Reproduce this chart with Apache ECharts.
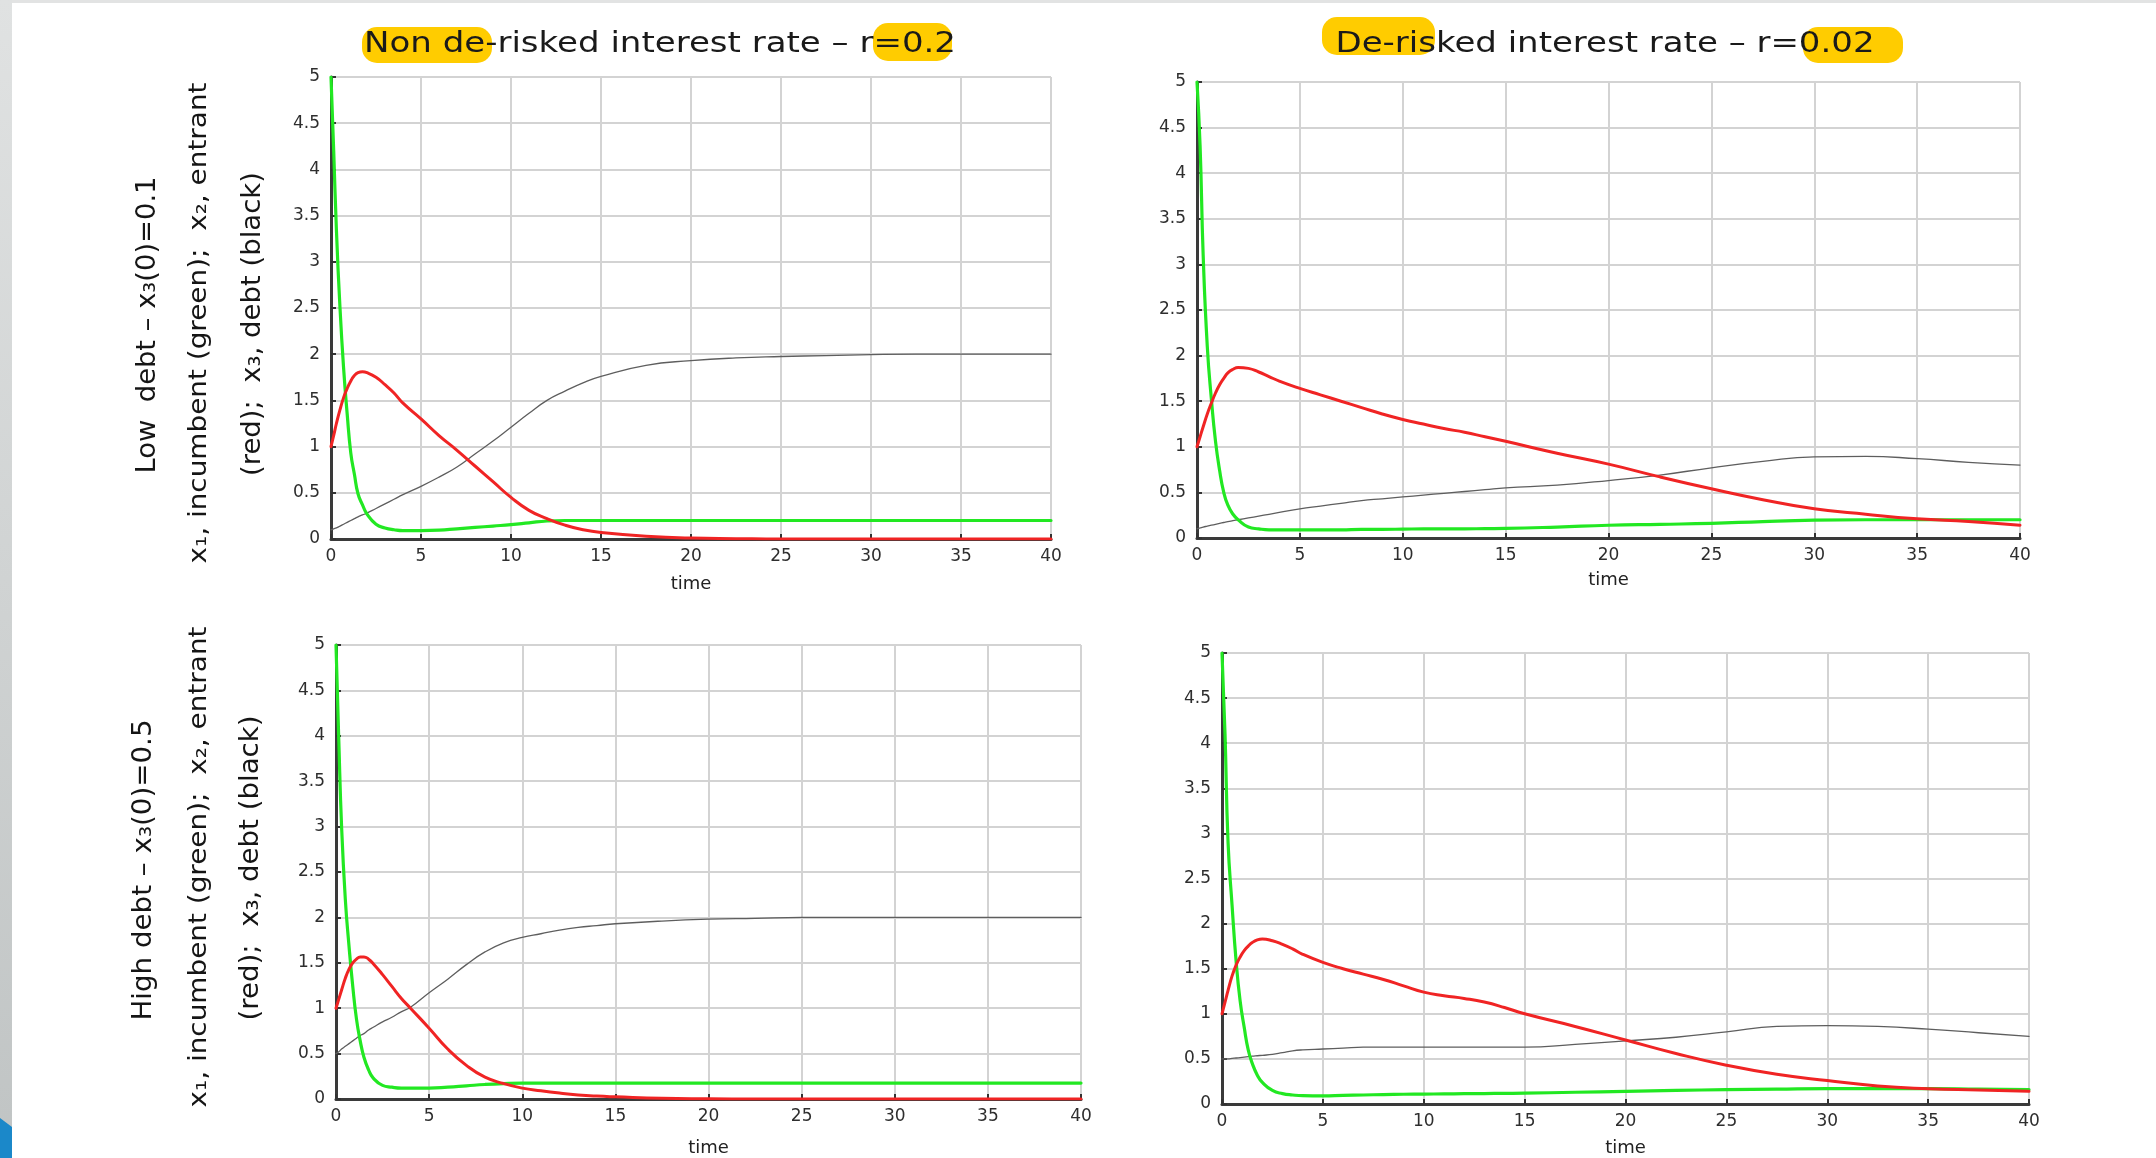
<!DOCTYPE html>
<html><head><meta charset="utf-8">
<script src="https://cdn.jsdelivr.net/npm/echarts@6/dist/echarts.min.js"></script>
<style>html,body{margin:0;padding:0;background:#fff;overflow:hidden}#c{width:2156px;height:1158px}</style>
</head><body><div id="c"></div>
<script>
// ---- data ----
const time = [0, 0.15, 0.3, 0.5, 0.7, 0.9, 1.1, 1.3, 1.5, 1.75, 2, 2.5, 3, 3.5, 4, 5, 6, 7, 8, 9, 10, 11, 12, 13, 14, 15, 17.5, 20, 22.5, 25, 27.5, 30, 32.5, 35, 37.5, 40];

// Top-left: low debt, non de-risked r=0.2
const tlGreen = [5, 4.2, 3.35, 2.5, 1.85, 1.35, 0.93, 0.7, 0.49, 0.37, 0.27, 0.16, 0.12, 0.10, 0.09, 0.09, 0.095, 0.11, 0.125, 0.14, 0.155, 0.175, 0.195, 0.2, 0.2, 0.2, 0.2, 0.2, 0.2, 0.2, 0.2, 0.2, 0.2, 0.2, 0.2, 0.2];
const tlRed   = [1.0, 1.12, 1.25, 1.4, 1.53, 1.63, 1.71, 1.77, 1.8, 1.81, 1.8, 1.75, 1.67, 1.58, 1.47, 1.3, 1.12, 0.96, 0.79, 0.62, 0.45, 0.31, 0.22, 0.15, 0.1, 0.07, 0.03, 0.01, 0.004, 0, 0, 0, 0, 0, 0, 0];
const tlBlack = [0.1, 0.11, 0.12, 0.14, 0.16, 0.18, 0.2, 0.22, 0.24, 0.26, 0.28, 0.33, 0.38, 0.43, 0.48, 0.57, 0.67, 0.78, 0.92, 1.06, 1.21, 1.36, 1.5, 1.6, 1.69, 1.76, 1.88, 1.93, 1.96, 1.975, 1.985, 1.995, 2.0, 2.0, 2.0, 2.0];

// Top-right: low debt, de-risked r=0.02
const trGreen = [5, 4.3, 3.1, 2.1, 1.52, 1.06, 0.74, 0.5, 0.36, 0.26, 0.2, 0.12, 0.1, 0.09, 0.09, 0.09, 0.09, 0.09, 0.095, 0.095, 0.097, 0.1, 0.1, 0.1, 0.103, 0.105, 0.12, 0.14, 0.15, 0.16, 0.18, 0.195, 0.2, 0.2, 0.2, 0.2];
const trRed   = [1.0, 1.11, 1.22, 1.36, 1.48, 1.59, 1.68, 1.75, 1.81, 1.85, 1.87, 1.86, 1.82, 1.77, 1.72, 1.64, 1.57, 1.5, 1.43, 1.36, 1.3, 1.25, 1.2, 1.16, 1.11, 1.06, 0.93, 0.81, 0.67, 0.54, 0.42, 0.32, 0.26, 0.21, 0.18, 0.14];
const trBlack = [0.1, 0.11, 0.12, 0.13, 0.14, 0.15, 0.16, 0.17, 0.18, 0.19, 0.2, 0.22, 0.24, 0.26, 0.28, 0.32, 0.35, 0.38, 0.41, 0.43, 0.45, 0.47, 0.49, 0.51, 0.53, 0.55, 0.58, 0.63, 0.69, 0.77, 0.84, 0.89, 0.895, 0.87, 0.83, 0.8];

// Bottom-left: high debt, non de-risked
const blGreen = [5, 3.95, 3.0, 2.2, 1.68, 1.24, 0.88, 0.64, 0.46, 0.32, 0.23, 0.15, 0.13, 0.12, 0.12, 0.12, 0.13, 0.145, 0.16, 0.17, 0.175, 0.175, 0.175, 0.175, 0.175, 0.175, 0.175, 0.175, 0.175, 0.175, 0.175, 0.175, 0.175, 0.175, 0.175, 0.175];
const blRed   = [1.0, 1.1, 1.2, 1.33, 1.43, 1.5, 1.54, 1.565, 1.565, 1.54, 1.49, 1.37, 1.24, 1.11, 1.0, 0.78, 0.55, 0.37, 0.24, 0.17, 0.12, 0.09, 0.065, 0.045, 0.032, 0.024, 0.008, 0.003, 0, 0, 0, 0, 0, 0, 0, 0];
const blBlack = [0.5, 0.52, 0.55, 0.58, 0.61, 0.64, 0.67, 0.7, 0.72, 0.76, 0.79, 0.85, 0.9, 0.96, 1.01, 1.17, 1.32, 1.48, 1.62, 1.72, 1.78, 1.82, 1.86, 1.89, 1.91, 1.93, 1.96, 1.98, 1.99, 2.0, 2.0, 2.0, 2.0, 2.0, 2.0, 2.0];

// Bottom-right: high debt, de-risked
const brGreen = [5, 4.1, 2.9, 2.2, 1.58, 1.14, 0.85, 0.6, 0.45, 0.32, 0.24, 0.15, 0.115, 0.1, 0.092, 0.09, 0.095, 0.1, 0.105, 0.108, 0.11, 0.112, 0.114, 0.116, 0.118, 0.12, 0.13, 0.14, 0.15, 0.16, 0.165, 0.17, 0.17, 0.17, 0.165, 0.16];
const brRed   = [1.0, 1.13, 1.26, 1.42, 1.54, 1.63, 1.7, 1.75, 1.79, 1.82, 1.83, 1.81, 1.77, 1.72, 1.66, 1.57, 1.5, 1.44, 1.38, 1.31, 1.24, 1.2, 1.17, 1.13, 1.07, 1.0, 0.86, 0.71, 0.56, 0.43, 0.33, 0.26, 0.2, 0.17, 0.155, 0.14];
const brBlack = [0.5, 0.5, 0.5, 0.505, 0.51, 0.515, 0.52, 0.525, 0.53, 0.535, 0.54, 0.55, 0.57, 0.59, 0.6, 0.61, 0.62, 0.63, 0.63, 0.63, 0.63, 0.63, 0.63, 0.63, 0.63, 0.63, 0.66, 0.7, 0.74, 0.8, 0.86, 0.87, 0.86, 0.83, 0.79, 0.75];

const xMin = 0, xMax = 40, xStep = 5;
const yMin = 0, yMax = 5, yStep = 0.5;
const xName = 'time';
const titles = ['Non de-risked interest rate \u2013 r=0.2', 'De-risked interest rate \u2013 r=0.02'];
const rowLabelLow  = ['Low  debt \u2013 x\u2083(0)=0.1', 'x\u2081, incumbent (green);  x\u2082, entrant', '(red);  x\u2083, debt (black)'];
const rowLabelHigh = ['High debt \u2013 x\u2083(0)=0.5', 'x\u2081, incumbent (green);  x\u2082, entrant', '(red);  x\u2083, debt (black)'];

// ---- layout / style ----
const panels = [
  {grid: {left: 331, top: 77, width: 720, height: 462}, gap: 36, g: tlGreen, r: tlRed, b: tlBlack},
  {grid: {left: 1197, top: 82, width: 823, height: 456}, gap: 33, g: trGreen, r: trRed, b: trBlack},
  {grid: {left: 336, top: 645, width: 745, height: 461}, gap: 40, g: blGreen, r: blRed, b: blBlack},
  {grid: {left: 1222, top: 653, width: 807, height: 452}, gap: 35, g: brGreen, r: brRed, b: brBlack}
];
const GREEN = '#22e822', RED = '#f02424', BLACK = '#5e5e5e';
const TICKFONT = 'DejaVu Sans';

const mctx = document.createElement('canvas').getContext('2d');
function measure(text, font) { mctx.font = font; return mctx.measureText(text).width; }

function stretchedText(text, cx, cy, size, targetW, rot, color) {
  const font = size + 'px "DejaVu Sans"';
  const w = measure(text, font);
  return {
    type: 'text', x: cx, y: cy, rotation: rot || 0, scaleX: targetW / w, z: 10,
    style: {text: text, font: font, fill: color || '#151515', textAlign: 'center', textVerticalAlign: 'middle', align: 'center', verticalAlign: 'middle'}
  };
}

const grids = [], xAxes = [], yAxes = [], series = [];
panels.forEach((p, i) => {
  grids.push(p.grid);
  xAxes.push({
    type: 'value', gridIndex: i, min: xMin, max: xMax, interval: xStep,
    name: xName, nameLocation: 'middle', nameGap: p.gap,
    nameTextStyle: {fontFamily: TICKFONT, fontSize: 18, color: '#222'},
    axisLine: {show: true, lineStyle: {color: '#3a3a3a', width: 3}},
    axisTick: {show: true, inside: true, length: 5, lineStyle: {color: '#333', width: 2}},
    axisLabel: {fontFamily: TICKFONT, fontSize: 17, color: '#2e2e2e', margin: 9},
    splitLine: {show: true, lineStyle: {color: '#d3d3d3', width: 2}}
  });
  yAxes.push({
    type: 'value', gridIndex: i, min: yMin, max: yMax, interval: yStep,
    axisLine: {show: true, onZero: false, lineStyle: {color: '#3a3a3a', width: 3}},
    axisTick: {show: true, inside: true, length: 5, lineStyle: {color: '#333', width: 2}},
    axisLabel: {fontFamily: TICKFONT, fontSize: 17, color: '#2e2e2e', margin: 11},
    splitLine: {show: true, lineStyle: {color: '#d3d3d3', width: 2}}
  });
  const mk = (vals, color, width, name) => ({
    type: 'line', name: name, xAxisIndex: i, yAxisIndex: i,
    data: time.map((t, k) => [t, vals[k]]),
    showSymbol: false, symbol: 'none', smooth: 0.5,
    lineStyle: {color: color, width: width, join: 'round', cap: 'round'}, itemStyle: {color: color}, z: 3
  });
  series.push(mk(p.b, BLACK, 1.3, 'x3 debt'));
  series.push(mk(p.g, GREEN, 3.2, 'x1 incumbent'));
  series.push(mk(p.r, RED, 3, 'x2 entrant'));
});

const HL = '#ffcc00';
const graphic = [
  {type: 'rect', shape: {x: 0, y: 0, width: 2156, height: 3}, style: {fill: '#e2e3e3'}, z: 0},
  {type: 'rect', shape: {x: 0, y: 0, width: 12, height: 1158},
   style: {fill: new echarts.graphic.LinearGradient(0, 0, 0, 1, [{offset: 0, color: '#e0e2e2'}, {offset: 1, color: '#c0c4c4'}])}, z: 0},
  {type: 'polygon', shape: {points: [[0, 1118], [12, 1127], [12, 1158], [0, 1158]]}, style: {fill: '#1b88c9'}, z: 1},
  {type: 'rect', shape: {x: 362, y: 27, width: 130, height: 36, r: 15}, style: {fill: HL}, z: 1},
  {type: 'rect', shape: {x: 873, y: 23, width: 79, height: 38, r: 15}, style: {fill: HL}, z: 1},
  {type: 'rect', shape: {x: 1322, y: 17, width: 113, height: 38, r: 15}, style: {fill: HL}, z: 1},
  {type: 'rect', shape: {x: 1803, y: 27, width: 100, height: 36, r: 15}, style: {fill: HL}, z: 1},
  stretchedText(titles[0], 660, 45, 28, 592, 0, '#1a1a1a'),
  stretchedText(titles[1], 1605, 45, 28, 539, 0, '#1a1a1a'),
  stretchedText(rowLabelLow[0], 148, 325, 27, 297, Math.PI / 2),
  stretchedText(rowLabelLow[1], 199, 323, 25, 481, Math.PI / 2),
  stretchedText(rowLabelLow[2], 253, 324, 27, 304, Math.PI / 2),
  stretchedText(rowLabelHigh[0], 144, 870, 27, 301, Math.PI / 2),
  stretchedText(rowLabelHigh[1], 199, 867, 25, 481, Math.PI / 2),
  stretchedText(rowLabelHigh[2], 251, 868, 27, 305, Math.PI / 2)
];

const chart = echarts.init(document.getElementById('c'), null, {renderer: 'canvas'});
chart.setOption({
  animation: false,
  backgroundColor: '#ffffff',
  grid: grids, xAxis: xAxes, yAxis: yAxes, series: series,
  graphic: graphic
});
</script>
</body></html>
